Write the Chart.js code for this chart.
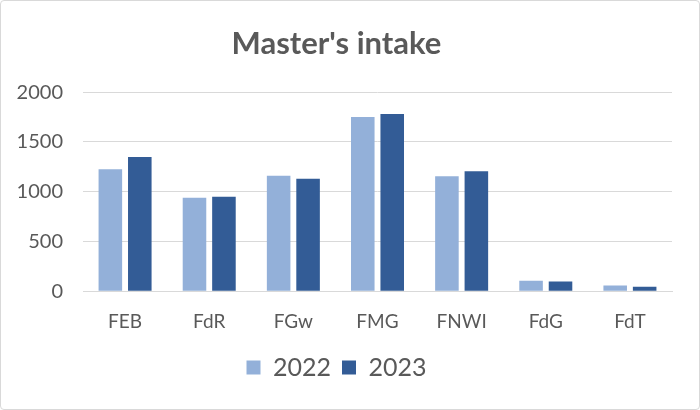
<!DOCTYPE html>
<html lang="en">
<head>
    <meta charset="UTF-8">
    <title>Master's intake</title>
    <style>
        body { margin: 0; background: #fff; }
        #wrap { width: 698px; height: 408px; border: 1px solid #d9d9d9; border-radius: 4px; }
    </style>
</head>
<body>
    <div id="wrap"><canvas id="myChart" width="698" height="408"></canvas></div>
    <script src="https://cdn.jsdelivr.net/npm/chart.js"></script>
    <script>
        // Faculties and intake per year
        const faculties = ['FEB', 'FdR', 'FGw', 'FMG', 'FNWI', 'FdG', 'FdT'];
        const intake2022 = [1225, 940, 1160, 1750, 1155, 105, 57];
        const intake2023 = [1350, 950, 1130, 1780, 1205, 98, 44];

        const grey = '#595959';
        const font = 'Lato, "Open Sans", sans-serif';

        const ctx = document.getElementById('myChart').getContext('2d');
        new Chart(ctx, {
            type: 'bar',
            data: {
                labels: faculties,
                datasets: [
                    { label: '2022', data: intake2022, backgroundColor: '#93b0d9' },
                    { label: '2023', data: intake2023, backgroundColor: '#335c96' }
                ]
            },
            options: {
                responsive: false,
                animation: false,
                categoryPercentage: 0.7,
                barPercentage: 0.8,
                layout: { padding: { left: 0, right: 27, top: 0, bottom: 19 } },
                plugins: {
                    title: {
                        display: true,
                        text: "Master's intake",
                        color: grey,
                        font: { family: font, size: 31, weight: 'bold' },
                        padding: { top: 24, bottom: 30 }
                    },
                    legend: {
                        position: 'bottom',
                        labels: {
                            color: grey,
                            font: { family: font, size: 25 },
                            boxWidth: 14,
                            boxHeight: 14,
                            padding: 11
                        }
                    },
                    tooltip: { enabled: false }
                },
                scales: {
                    x: {
                        grid: { display: false },
                        border: { color: '#d9d9d9' },
                        ticks: { color: grey, font: { family: font, size: 19 }, padding: 11 }
                    },
                    y: {
                        min: 0,
                        max: 2000,
                        grid: { color: '#d9d9d9', drawTicks: false },
                        border: { display: false },
                        ticks: {
                            stepSize: 500,
                            color: grey,
                            font: { family: font, size: 20 },
                            padding: 20,
                            callback: function(v) { return String(v); }
                        },
                        afterFit: function(scale) { scale.width = 82; }
                    }
                }
            }
        });
    </script>
</body>
</html>
